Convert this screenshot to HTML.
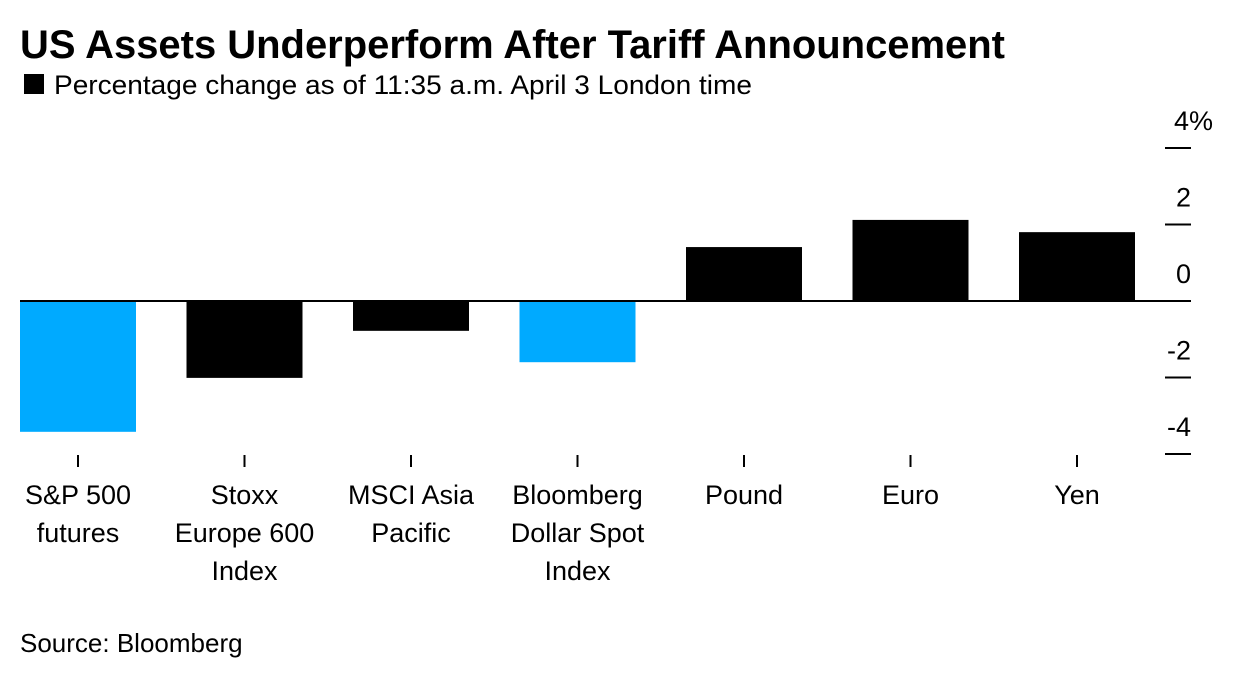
<!DOCTYPE html>
<html><head><meta charset="utf-8"><style>
body{margin:0;background:#fff;font-family:"Liberation Sans",sans-serif;}
svg text{font-family:"Liberation Sans",sans-serif;}
</style></head><body>
<svg width="1236" height="680" xmlns="http://www.w3.org/2000/svg">
<text x="20" y="58" font-size="40" font-weight="bold" fill="#000" textLength="985" lengthAdjust="spacingAndGlyphs">US Assets Underperform After Tariff Announcement</text>
<rect x="24" y="74" width="20" height="20" fill="#000"/>
<text x="54" y="94" font-size="27" fill="#000" textLength="698" lengthAdjust="spacingAndGlyphs">Percentage change as of 11:35 a.m. April 3 London time</text>
<g id="bars"></g>
<g id="axis"></g>
<text x="20" y="652" font-size="26" fill="#000">Source: Bloomberg</text>
</svg>
<script>
const categories=[["S&P 500","futures"],["Stoxx","Europe 600","Index"],["MSCI Asia","Pacific"],["Bloomberg","Dollar Spot","Index"],["Pound"],["Euro"],["Yen"]];
const values=[-3.42,-2.01,-0.78,-1.6,1.41,2.12,1.8];
const highlight=[true,false,false,true,false,false,false];
const yTicks=[4,2,0,-2,-4];
const NS="http://www.w3.org/2000/svg";
const y0=301,pxPer=38.25;
function y(v){return y0-v*pxPer;}
function xc(i){return 78+i*166.5;}
const bw=116;
const bars=document.getElementById('bars'),axis=document.getElementById('axis');
function mk(tag,attrs,parent){const e=document.createElementNS(NS,tag);for(const k in attrs)e.setAttribute(k,attrs[k]);parent.appendChild(e);return e;}
values.forEach((v,i)=>{
 const r=mk('rect',{x:xc(i)-bw/2,y:Math.min(y(v),y(0)),width:bw,height:Math.abs(y(v)-y(0)),fill:highlight[i]?'#00aaff':'#000'},bars);
 
 
 const t=mk('line',{x1:xc(i),x2:xc(i),y1:455,y2:467,stroke:'#000','stroke-width':2},axis);
 
 
 const tx=mk('text',{x:xc(i),'text-anchor':'middle','font-size':27,fill:'#000'},axis);
 
 
 categories[i].forEach((ln,j)=>{const s=mk('tspan',{x:xc(i),y:504+j*38},tx);s.textContent=ln;});
});
const zl=mk('line',{x1:20,x2:1191,y1:y(0),y2:y(0),stroke:'#000','stroke-width':2},axis);


yTicks.forEach(v=>{
 const l=mk('line',{x1:1165,x2:1191,y1:y(v),y2:y(v),stroke:'#000','stroke-width':2},axis);
 
 
 const t=mk('text',{x:1191,y:y(v)-18,'text-anchor':'end','font-size':27,fill:'#000'},axis);
 
 
 if(v===4){t.setAttribute('x',1174);t.setAttribute('text-anchor','start');t.textContent='4%';}
 else t.textContent=String(v);
});
</script>
</body></html>
